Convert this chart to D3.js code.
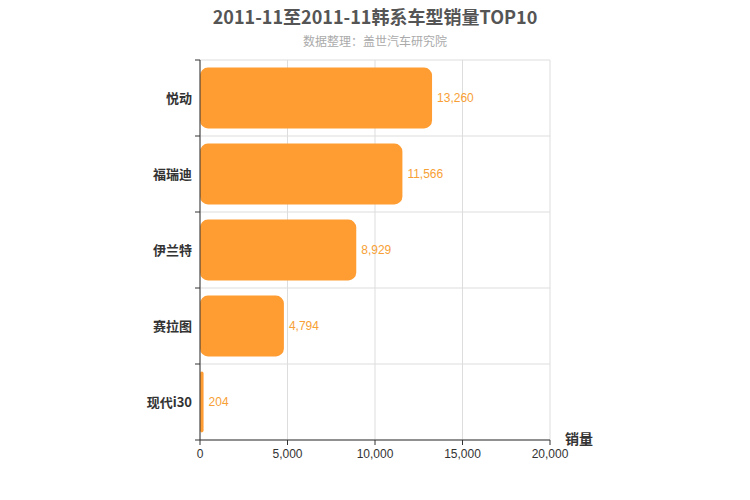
<!DOCTYPE html>
<html><head><meta charset="utf-8">
<script src="https://cdn.jsdelivr.net/npm/d3@7/dist/d3.min.js"></script>
<style>body{margin:0;background:#fff;font-family:"Noto Sans CJK SC","Noto Sans",sans-serif;}</style>
</head><body><svg id="c" width="750" height="500"></svg>
<script>
const categories = ["悦动","福瑞迪","伊兰特","赛拉图","现代i30"];
const values = [13260,11566,8929,4794,204];
const xTicks = [0,5000,10000,15000,20000];
const title = "2011-11至2011-11韩系车型销量TOP10";
const subtitle = "数据整理：盖世汽车研究院";
const axisName = "销量";

const svg = d3.select("#c");
const L=200,R=550,T=60,B=440;
const x = d3.scaleLinear().domain([0,20000]).range([L,R]);
const y = d3.scaleBand().domain(categories).range([T,B]).paddingInner(0.2).paddingOuter(0.1);
const fmt = d3.format(",");

svg.append("text").attr("x",375).attr("y",24).attr("text-anchor","middle")
  .attr("font-size",18).attr("font-weight","bold").attr("fill","#555").text(title);
svg.append("text").attr("x",375).attr("y",46).attr("text-anchor","middle")
  .attr("font-size",12).attr("fill","#aaa").text(subtitle);

// grid
svg.append("g").selectAll("line").data(xTicks).join("line")
  .attr("x1",d=>x(d)).attr("x2",d=>x(d)).attr("y1",T).attr("y2",B)
  .attr("stroke","#ddd");
const bounds = d3.range(categories.length+1).map(i=>T+i*(B-T)/categories.length);
svg.append("g").selectAll("line").data(bounds).join("line")
  .attr("x1",L).attr("x2",R).attr("y1",d=>d).attr("y2",d=>d).attr("stroke","#ddd");

// bars
svg.append("g").selectAll("rect").data(values).join("rect")
  .attr("x",x(0)).attr("y",(d,i)=>y(categories[i]))
  .attr("width",d=>x(d)-x(0)).attr("height",y.bandwidth())
  .attr("rx",d=>Math.min(8,(x(d)-x(0))/2)).attr("fill","#FF9D33");
svg.append("g").selectAll("text").data(values).join("text")
  .attr("x",d=>x(d)+5).attr("y",(d,i)=>y(categories[i])+y.bandwidth()/2+4)
  .attr("font-size",12).attr("fill","#F7A035").attr("font-family","Liberation Sans, Arial, sans-serif")
  .text(d=>fmt(d));

// left axis
svg.append("line").attr("x1",L).attr("x2",L).attr("y1",T).attr("y2",B).attr("stroke","#333");
svg.append("g").selectAll("line").data(bounds).join("line")
  .attr("x1",L-5).attr("x2",L).attr("y1",d=>d).attr("y2",d=>d).attr("stroke","#333");
svg.append("g").selectAll("text").data(categories).join("text")
  .attr("x",L-8).attr("y",d=>y(d)+y.bandwidth()/2+5).attr("text-anchor","end")
  .attr("font-size",13).attr("font-weight","bold").attr("fill","#333").text(d=>d);

// bottom axis
svg.append("line").attr("x1",L).attr("x2",R).attr("y1",B).attr("y2",B).attr("stroke","#333");
svg.append("g").selectAll("line").data(xTicks).join("line")
  .attr("x1",d=>x(d)).attr("x2",d=>x(d)).attr("y1",B).attr("y2",B+5).attr("stroke","#333");
svg.append("g").selectAll("text").data(xTicks).join("text")
  .attr("x",d=>x(d)).attr("y",B+18).attr("text-anchor","middle")
  .attr("font-size",12).attr("fill","#333").attr("font-family","Liberation Sans, Arial, sans-serif")
  .text(d=>fmt(d));
svg.append("text").attr("x",565).attr("y",444).attr("font-size",14)
  .attr("font-weight","bold").attr("fill","#333").text(axisName);
</script></body></html>
